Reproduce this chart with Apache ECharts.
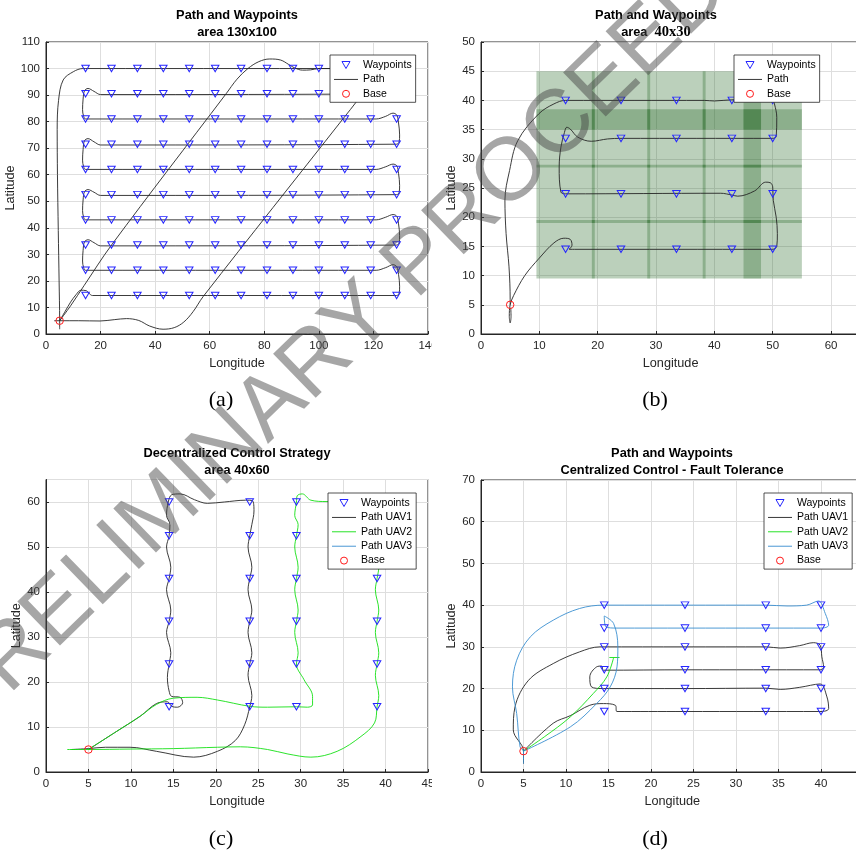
<!DOCTYPE html>
<html><head><meta charset="utf-8">
<script src="https://cdn.jsdelivr.net/npm/echarts@6/dist/echarts.min.js"></script>
<style>html,body{margin:0;padding:0;background:#fff}#c{width:856px;height:852px}</style>
</head><body><div id="c"></div>
<script>
// ---------------- DATA ----------------
// panel (a)
const wpAx = [14.5,24,33.5,43,52.5,62,71.5,81,90.5,100,109.5,119,128.5];
const wpAy = [14.5,24,33.5,43,52.5,62,71.5,81,90.5,100];
const pathA1 = [[5,1.8],[5,5],[4.8,20],[4.5,39],[4.2,60],[4.1,77],[4.6,88],[6.3,95.7],[10,98.8],[13.5,100],[14.5,100],
 [128.5,100],[129.6,98.5],[129.8,94],[129.3,91.2],[128.5,90.5],
 [20,90.2],[17.6,91.4],[15.4,92.5],[14.1,91.6],[13.6,88.5],[13.4,84.5],[13.8,82],[14.5,81],
 [121,81],[124.5,82],[127.2,83.2],[128.6,82.4],[129.2,79.5],[129.6,75],[129.4,72.3],[128.5,71.5],
 [20,71.2],[17.6,72.4],[15.4,73.6],[14.1,72.8],[13.6,69.5],[13.4,65.5],[13.8,63],[14.5,62],
 [121,62],[124.5,63],[127.2,64],[128.6,63.3],[129.2,60.5],[129.6,56],[129.4,53.3],[128.5,52.5],
 [20,52.2],[17.6,53.4],[15.4,54.4],[14.1,53.6],[13.6,50.5],[13.4,46.5],[13.8,44],[14.5,43],
 [121,43],[124.5,44],[127.2,45],[128.6,44.3],[129.2,41.5],[129.6,37],[129.4,34.3],[128.5,33.5],
 [20,33.2],[17.6,34.4],[15.4,35.5],[14.1,34.7],[13.6,31.5],[13.4,27.5],[13.8,25],[14.5,24],
 [121,24],[124.5,25],[127.2,26.1],[128.6,25.3],[129.2,22.5],[129.6,18],[129.4,15.3],[128.5,14.5],
 [17,14.5],[15.8,15.3],[14.8,16.3],[12.8,16.5],[11,14.8],[9,12],[7,8.5],[5,5]];
const pathA2 = [[5,5],[9,10.6],[14,18.3],[24,33.5],[66,90.5],[70,96],[74,100],[78,102.6],[82,103.6],[86,103.2],[89,101.5],[91,100.3],[94,99.4],[97,99.5],[100,100],[128.5,100]];
const pathA3 = [[3,5],[5,5],[12,5],[19.8,4.9],[25,5.4],[29.5,5.8],[34,5.1],[38,3.0],[42.9,1.8],[47,2.4],[50.5,4.5],[53.9,8.4],[57.6,14.1],[108.8,81],[114.3,88.2],[117.5,93],[120.5,98],[123.5,100],[128.5,100]];
// panel (b)
const wpBx = [14.5,24,33.5,43,50];
const wpBy = [14.5,24,33.5,40];
const tileBx = [[9.5,19.5],[19,29],[28.5,38.5],[38,48],[45,55]];
const tileBy = [[9.5,19.5],[19,29],[28.5,38.5],[35,45]];
const pathB = [[5.1,4.5],[5.15,3],[5,1.9],[4.85,3],[5,5],[5.6,6.6],[7.5,10],[10,13],[12.5,15.6],[14.2,16.4],[15.3,16.2],[15.6,15.2],[15.1,14.5],[16,14.5],
 [50,14.5],[50.7,15],[50.8,17.2],[50.6,20],[50.1,22.9],[50,25.2],[49.6,25.9],[48.8,26],[46.9,24.5],[44,23.6],[43,23.8],[41.1,24.1],
 [14.5,24],[13.7,24.3],[13.4,28.6],[13.7,32],[14.3,34.5],[14.7,35.4],[15.3,35.1],[16.6,33.7],[18.9,33],[21.7,33.4],[24,33.5],
 [50,33.5],[50.6,33.8],[50.7,37.1],[50.3,39.4],[50,40],[43,40.1],[40,39.9],[38.3,40],
 [14.5,40],[12.5,39.4],[9.9,37.7],[6.3,33.1],[4.9,28],[4.1,22.9],[4.3,17.2],[4.8,11.5],[5,5.9],[5,5]];
// panel (c)
const wpCx = [14.5,24,29.5,39];
const wpCy = [14.5,24,33.5,43,52.5,60];
const pathC1 = [[3,5],[5,5.2],[7,5.5],[9.9,5.5],[13,4.6],[17.4,3.3],[20.2,4.6],[22.3,7],[23.4,10.5],[24,14.5],
 [24.25,17],[23.8,21.5],[24,24],[24.25,26.5],[23.8,31],[24,33.5],[24.25,36],[23.8,40.5],[24,43],[24.25,45.5],[23.8,50],[24,52.5],[24.25,55],[24.5,58],[24.3,60.3],
 [23.5,60.4],[21,60],[19,59.7],[17.5,60.5],[15.8,61.8],[14.8,61.6],[14.4,60],
 [14.2,57],[14.6,55],[14.5,52.5],[14.2,50],[14.7,45.5],[14.5,43],[14.2,40.5],[14.7,36],[14.5,33.5],[14.2,31],[14.7,26.5],[14.5,24],[14.3,21],[14.5,18],
 [14.8,16.8],[15.8,16.6],[16.1,15.4],[15.5,14.4],[14.8,14.6],[14.3,15.6],[13,15.2],[11.1,12.4],[8.3,9],[5,5]];
const pathC2 = [[2.5,5],[5,5],[9.9,5.1],[15,5.2],[20.2,5.5],[22.9,5.6],[26.1,5.0],[28.5,4],[31.2,3.3],[34.3,4.6],[37.1,7.9],[38.7,10.9],[39,14.5],
 [39.2,17],[38.8,21.5],[39,24],[39.2,26.5],[38.8,31],[39,33.5],[39.2,36],[38.8,40.5],[39,43],[39.2,45.5],[38.8,50],[39,52.5],[39.2,55],[39,58],[38.5,60],
 [36,60.2],[33.1,60.1],[31.2,60.4],[30.2,61.8],[29.6,61.4],[29.5,60],
 [29.3,57],[29.7,55],[29.5,52.5],[29.3,50],[29.7,45.5],[29.5,43],[29.3,40.5],[29.7,36],[29.5,33.5],[29.3,31],[29.7,26.5],[29.5,24],
 [30.4,20.5],[31.4,16.8],[31.4,14.9],[30.8,14.4],[29.5,14.5],[26.1,14.4],[24,14.6],[20.2,16.0],[17.8,16.6],[15,16.4],[13,15],[11.1,12.4],[8.3,9],[5,5]];
const pathC3 = [];
// panel (d)
const wpDx = [14.5,24,33.5,40];
const wpDy = [14.5,20,24.5,30,34.5,40];
const pathD1 = [[5,2],[5,5],[3.8,10.1],[4,15.6],[5.6,22],[8.5,26],[11.6,28.8],[14,30],[24,30],[33.6,30],[35.2,29.7],[37.5,30.3],[39.1,31],[39.9,30.4],[40.1,27.6],[40.3,25.2],[40,24.5],
 [24,24.5],[14.4,24.4],[14.2,25.4],[13.6,25.2],[12.8,22.8],[13,20.4],[14.4,20],[24,20],[33.5,20.1],[35.2,19.8],[37.5,20.3],[39.9,21.1],[40.7,18],[40.9,15.2],[40,14.5],
 [24,14.5],[16,14.5],[15.8,16],[14.4,16.4],[12.8,16],[10.5,13.5],[8.5,11.7],[5,5]];
const pathD2 = [[5,5],[7.5,8.5],[10.5,13.2],[13.2,18.8],[14.8,22.8],[15.6,27.4]];
const pathD2end = [[15.1,27.45],[16.3,27.45]];
const pathD3 = [[5,2],[5,4],[5,5],[4.6,6],[4.2,14],[3.7,20.4],[4.2,26.8],[5.8,32.4],[8.5,36.4],[11.6,39.2],[14.5,40],[24,40],[33.5,40],[36,39.8],[38.3,40],[39.7,41],[40.5,38],[40.9,35.2],[40,34.5],
 [33.5,34.5],[24,34.5],[16,34.5],[14.7,34.8],[14.5,37.4],[15.6,35.6],[16.1,30],[16,25.2],[15.2,20.4],[13.6,16.4],[10.5,10.8],[5,5]];
const basePt = [[5,5]];
// axes ranges [min,max,step]
const axXA = [0,140,20], axYA = [0,110,10];
const axXB = [0,65,10],  axYB = [0,50,5];
const axXC = [0,45,5],   axYC = [0,65,10];
const axXD = [0,45,5],   axYD = [0,70,10];

// ---------------- CHART ----------------
const FONT = '"Liberation Sans", Arial, Helvetica, sans-serif';
const SERIF = '"Liberation Serif", "Times New Roman", serif';
const AX = '#262626';
const TRI = 'path://M0,0L10,0L5,8.7Z';
const LINEICON = 'path://M0,0H26V1H0Z';
const WPBLUE = '#2626ff', BASERED = '#ff1a1a';
function mesh(xs, ys){ const o=[]; ys.forEach(y=>xs.forEach(x=>o.push([x,y]))); return o; }
function tiles(cx, cy){ const o=[]; cy.forEach(r=>cx.forEach(c=>o.push([c[0],c[1],r[0],r[1]]))); return o; }
function xax(gi, r, hideMax){ return {gridIndex:gi,type:'value',min:r[0],max:r[1],interval:r[2],name:'Longitude',nameLocation:'middle',nameGap:23,
 nameTextStyle:{fontSize:12.7,color:AX,fontFamily:FONT},axisLine:{show:true,onZero:false,lineStyle:{color:AX,width:1}},
 axisTick:{show:true,inside:true,length:3,lineStyle:{color:AX}},axisLabel:{fontSize:11.5,color:AX,margin:6,fontFamily:FONT,showMaxLabel:!hideMax,showMinLabel:true,hideOverlap:false},
 splitLine:{show:true,lineStyle:{color:'#dedede',width:1}}}; }
function yax(gi, r, hideMax){ return {gridIndex:gi,type:'value',min:r[0],max:r[1],interval:r[2],name:'Latitude',nameLocation:'middle',nameGap:22,nameRotate:90,
 nameTextStyle:{fontSize:12.7,color:AX,fontFamily:FONT},axisLine:{show:true,onZero:false,lineStyle:{color:AX,width:1}},
 axisTick:{show:true,inside:true,length:3,lineStyle:{color:AX}},axisLabel:{fontSize:11.5,color:AX,margin:6,fontFamily:FONT,showMaxLabel:!hideMax,showMinLabel:true,hideOverlap:false},
 splitLine:{show:true,lineStyle:{color:'#dedede',width:1}}}; }
function lineS(name, gi, data, color, w){ return {type:'line',name,xAxisIndex:gi,yAxisIndex:gi,data,smooth:0.35,symbol:'none',showSymbol:false,
 lineStyle:{color,width:w||0.9},itemStyle:{color},z:3,silent:true}; }
function wpS(gi, data){ return {type:'scatter',name:'Waypoints',xAxisIndex:gi,yAxisIndex:gi,data,symbol:TRI,symbolSize:[7.5,6.5],
 itemStyle:{color:'rgba(255,255,255,0)',borderColor:WPBLUE,borderWidth:1,opacity:1},z:5,silent:true}; }
function baseS(gi){ return {type:'scatter',name:'Base',xAxisIndex:gi,yAxisIndex:gi,data:basePt,symbol:'circle',symbolSize:7.5,
 itemStyle:{color:'rgba(255,255,255,0)',borderColor:BASERED,borderWidth:1,opacity:1},z:6,silent:true}; }
function legItem(name){
 if (name === 'Waypoints') return {name, icon:TRI, itemStyle:{color:'rgba(255,255,255,0)',borderColor:WPBLUE,borderWidth:1}};
 if (name === 'Base') return {name, icon:'circle', itemStyle:{color:'rgba(255,255,255,0)',borderColor:BASERED,borderWidth:1}};
 return {name, icon:LINEICON, itemStyle:{borderWidth:0}};
}
function legend(left, top, names){ return {show:true,orient:'vertical',left,top,data:names.map(legItem),selectedMode:false,
 backgroundColor:'#fff',borderColor:AX,borderWidth:0.8,borderRadius:0,padding:[4.5,4,3,4],itemGap:3.4,itemWidth:24,itemHeight:7,
 textStyle:{fontSize:10.5,color:'#000',fontFamily:FONT,lineHeight:11},z:10}; }

const BLACK='#262626', GREEN='#14e014', BLUE='#3a8ed0';
const gridBase = {show:true,borderColor:AX,borderWidth:1,backgroundColor:'transparent',containLabel:false,outerBoundsMode:'none'};
const option = {
 animation:false,
 textStyle:{fontFamily:FONT},
 grid:[
  Object.assign({left:46,top:42,width:382,height:292},gridBase),
  Object.assign({left:481,top:42,width:379.2,height:292},gridBase),
  Object.assign({left:46,top:479.5,width:382,height:292.5},gridBase),
  Object.assign({left:481,top:480,width:382.5,height:292},gridBase)
 ],
 xAxis:[xax(0,axXA,false),xax(1,axXB,true),xax(2,axXC,false),xax(3,axXD,true)],
 yAxis:[yax(0,axYA,false),yax(1,axYB,false),yax(2,axYC,true),yax(3,axYD,false)],
 title:[
  {text:'Path and Waypoints\narea 130x100',left:237,top:7,textAlign:'center',padding:0,textStyle:{fontSize:12.8,fontWeight:'bold',color:'#000',lineHeight:17,fontFamily:FONT}},
  {text:'Path and Waypoints\n{s|area}  {t|40x30}',left:656,top:7,textAlign:'center',padding:0,textStyle:{fontSize:12.8,fontWeight:'bold',color:'#000',lineHeight:17,fontFamily:FONT,
    rich:{s:{fontSize:12.8,fontWeight:'bold',fontFamily:FONT,color:'#000',lineHeight:17},t:{fontSize:14.5,fontWeight:'bold',fontFamily:SERIF,color:'#000',lineHeight:17}}}},
  {text:'Decentralized Control Strategy\narea 40x60',left:237,top:445,textAlign:'center',padding:0,textStyle:{fontSize:12.8,fontWeight:'bold',color:'#000',lineHeight:17,fontFamily:FONT}},
  {text:'Path and Waypoints\nCentralized Control - Fault Tolerance',left:672,top:445,textAlign:'center',padding:0,textStyle:{fontSize:12.8,fontWeight:'bold',color:'#000',lineHeight:17,fontFamily:FONT}}
 ],
 legend:[
  legend(330,55,['Waypoints','Path','Base']),
  legend(734,55,['Waypoints','Path','Base']),
  legend(328,493,['Waypoints','Path UAV1','Path UAV2','Path UAV3','Base']),
  legend(764,493,['Waypoints','Path UAV1','Path UAV2','Path UAV3','Base'])
 ],
 series:[
  // (a)
  lineS('Path',0,pathA1,BLACK), lineS('Path',0,pathA2,BLACK), lineS('Path',0,pathA3,BLACK),
  wpS(0, mesh(wpAx,wpAy)), baseS(0),
  // (b)
  {type:'custom',name:'coverage',xAxisIndex:1,yAxisIndex:1,data:tiles(tileBx,tileBy),z:1,silent:true,
   encode:{x:[0,1],y:[2,3]},
   renderItem:function(params, api){
     const p1 = api.coord([api.value(0), api.value(3)]);
     const p2 = api.coord([api.value(1), api.value(2)]);
     return {type:'rect',shape:{x:p1[0],y:p1[1],width:p2[0]-p1[0],height:p2[1]-p1[1]},style:{fill:'rgba(30,100,30,0.3)'}};
   }},
  lineS('Path',1,pathB,BLACK),
  wpS(1, mesh(wpBx,wpBy)), baseS(1),
  // (c)
  lineS('Path UAV1',2,pathC1,BLACK), lineS('Path UAV2',2,pathC2,GREEN,0.9), lineS('Path UAV3',2,pathC3,BLUE,0.9),
  wpS(2, mesh(wpCx,wpCy)), baseS(2),
  // (d)
  lineS('Path UAV1',3,pathD1,BLACK), lineS('Path UAV2',3,pathD2,GREEN,0.9),
  Object.assign(lineS('Path UAV2',3,pathD2end,GREEN,0.9),{smooth:false}),
  lineS('Path UAV3',3,pathD3,BLUE,0.9),
  wpS(3, mesh(wpDx,wpDy)), baseS(3)
 ],
 graphic:[
  {type:'rect',shape:{x:432,y:338,width:16,height:18},style:{fill:'#fff'},z:50},
  {type:'rect',shape:{x:432,y:776,width:16,height:18},style:{fill:'#fff'},z:50},
  {type:'text',x:221,y:400,z:60,style:{text:'(a)',fontSize:22,fontFamily:SERIF,fill:'#000',textAlign:'center',textVerticalAlign:'middle'}},
  {type:'text',x:655,y:400,z:60,style:{text:'(b)',fontSize:22,fontFamily:SERIF,fill:'#000',textAlign:'center',textVerticalAlign:'middle'}},
  {type:'text',x:221,y:839,z:60,style:{text:'(c)',fontSize:22,fontFamily:SERIF,fill:'#000',textAlign:'center',textVerticalAlign:'middle'}},
  {type:'text',x:655,y:839,z:60,style:{text:'(d)',fontSize:22,fontFamily:SERIF,fill:'#000',textAlign:'center',textVerticalAlign:'middle'}},
  {type:'text',x:-51,y:719,rotation:0.77,z:100,silent:true,style:{text:'PRELIMINARY PROCEEDINGS',fontSize:89,fontFamily:FONT,fill:'rgba(70,70,70,0.48)',textAlign:'left',textVerticalAlign:'middle'}}
 ]
};
const chart = echarts.init(document.getElementById('c'), null, {renderer:'canvas', width:856, height:852});
chart.setOption(option);
</script></body></html>
